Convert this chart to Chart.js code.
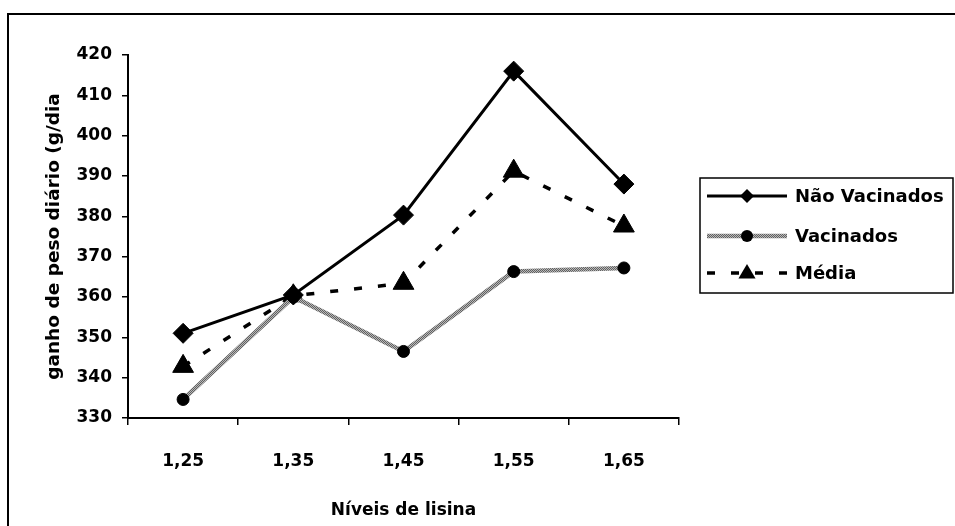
<!DOCTYPE html>
<html>
<head>
<meta charset="utf-8">
<script src="https://cdn.jsdelivr.net/npm/chart.js@4/dist/chart.umd.min.js"></script>
<style>
	html, body { margin: 0; padding: 0; background: #fff; }
	#wrap { width: 955px; height: 526px; }
</style>
</head>
<body>
<div id="wrap"><canvas id="ganhoChart" width="955" height="526"></canvas></div>
<script>
// níveis de lisina e ganho de peso diário (g/dia)
const niveis = ["1,25", "1,35", "1,45", "1,55", "1,65"];
const naoVacinados = [351, 360.5, 380.3, 416, 388];
const vacinados = [334.6, 360, 346.5, 366.3, 367.2];
const media = [342.8, 360.3, 363.4, 391.2, 377.6];
const yTicks = [330, 340, 350, 360, 370, 380, 390, 400, 410, 420];

const FONT = "'DejaVu Sans', sans-serif";

// traço cinza "pontilhado" da série Vacinados
function makeGrayPattern() {
	const c = document.createElement("canvas");
	c.width = 2;
	c.height = 2;
	const g = c.getContext("2d");
	g.fillStyle = "#b8b8b8";
	g.fillRect(0, 0, 2, 2);
	g.fillStyle = "#606060";
	g.fillRect(0, 0, 1, 1);
	g.fillRect(1, 1, 1, 1);
	return g.createPattern(c, "repeat");
}

const ctx = document.getElementById("ganhoChart").getContext("2d");
const grayPattern = makeGrayPattern();

// moldura externa do gráfico
const frame = {
	id: "frame",
	beforeDraw(chart) {
		const c = chart.ctx;
		c.save();
		c.fillStyle = "#fff";
		c.fillRect(0, 0, chart.width, chart.height);
		c.strokeStyle = "#000";
		c.lineWidth = 2;
		c.strokeRect(8, 14, 1000, 600);
		c.restore();
	},
};

function drawMarker(c, style, x, y, r) {
	c.beginPath();
	if (style === "rectRot") {
		c.moveTo(x, y - r);
		c.lineTo(x + r, y);
		c.lineTo(x, y + r);
		c.lineTo(x - r, y);
	} else if (style === "triangle") {
		c.moveTo(x, y - r);
		c.lineTo(x + r * 0.95, y + r * 0.6);
		c.lineTo(x - r * 0.95, y + r * 0.6);
	} else {
		c.arc(x, y, r, 0, Math.PI * 2);
	}
	c.closePath();
	c.fill();
}

// legenda com linha + marcador, à direita
const lineLegend = {
	id: "lineLegend",
	afterDraw(chart) {
		const c = chart.ctx;
		const box = { x: 700, y: 178, w: 253, h: 115 };
		const rows = [196, 236, 273];
		const sizes = [7, 6, 9];
		c.save();
		c.strokeStyle = "#000";
		c.lineWidth = 1.5;
		c.strokeRect(box.x, box.y, box.w, box.h);
		chart.data.datasets.forEach((ds, i) => {
			const y = rows[i];
			c.save();
			c.strokeStyle = ds.borderColor;
			c.lineWidth = ds.borderWidth;
			c.setLineDash(ds.borderDash || []);
			c.beginPath();
			c.moveTo(707, y);
			c.lineTo(787, y);
			c.stroke();
			c.restore();
			c.fillStyle = "#000";
			drawMarker(c, ds.pointStyle, 747, y, sizes[i]);
			c.fillStyle = "#000";
			c.font = "bold 18px " + FONT;
			c.textAlign = "left";
			c.textBaseline = "middle";
			c.fillText(ds.label, 795, y + 1);
		});
		c.restore();
	},
};

new Chart(ctx, {
	type: "line",
	data: {
		labels: niveis,
		datasets: [
			{
				label: "Não Vacinados",
				data: naoVacinados,
				borderColor: "#000",
				borderWidth: 3,
				pointStyle: "rectRot",
				pointRadius: 10,
				pointBackgroundColor: "#000",
				pointBorderColor: "#000",
				pointBorderWidth: 1,
			},
			{
				label: "Vacinados",
				data: vacinados,
				borderColor: grayPattern,
				borderWidth: 4.5,
				pointStyle: "circle",
				pointRadius: 6,
				pointBackgroundColor: "#000",
				pointBorderColor: "#000",
				pointBorderWidth: 1,
			},
			{
				label: "Média",
				data: media,
				borderColor: "#000",
				borderWidth: 3.5,
				borderDash: [8, 16],
				pointStyle: "triangle",
				pointRadius: 12,
				pointBackgroundColor: "#000",
				pointBorderColor: "#000",
				pointBorderWidth: 1,
			},
		],
	},
	options: {
		responsive: false,
		animation: false,
		layout: { padding: { left: 0, top: 55, right: 276, bottom: 0 } },
		plugins: {
			legend: { display: false },
			tooltip: { enabled: false },
		},
		elements: { line: { tension: 0 } },
		scales: {
			x: {
				offset: true,
				grid: {
					offset: true,
					drawOnChartArea: false,
					drawTicks: true,
					tickLength: 7,
					color: "#000",
					lineWidth: 1.5,
				},
				border: { display: true, color: "#000", width: 2 },
				ticks: {
					color: "#000",
					padding: 26,
					maxRotation: 0,
					font: { family: FONT, size: 17, weight: "bold" },
				},
				title: {
					display: true,
					text: "Níveis de lisina",
					color: "#000",
					padding: { top: 0, bottom: 5 },
					font: { family: FONT, size: 17, weight: "bold" },
				},
				afterFit(scale) {
					scale.height = 108;
				},
			},
			y: {
				min: 330,
				max: 420,
				afterBuildTicks(scale) {
					scale.ticks = yTicks.map((v) => ({ value: v }));
				},
				grid: {
					drawOnChartArea: false,
					drawTicks: true,
					tickLength: 6,
					color: "#000",
					lineWidth: 1.5,
				},
				border: { display: true, color: "#000", width: 2 },
				ticks: {
					color: "#000",
					padding: 10,
					font: { family: FONT, size: 17, weight: "bold" },
				},
				title: {
					display: true,
					text: "ganho de peso diário (g/dia",
					color: "#000",
					padding: { top: 43, bottom: 0 },
					font: { family: FONT, size: 18.5, weight: "bold" },
				},
				afterFit(scale) {
					scale.width = 128;
				},
			},
		},
	},
	plugins: [frame, lineLegend],
});
</script>
</body>
</html>
